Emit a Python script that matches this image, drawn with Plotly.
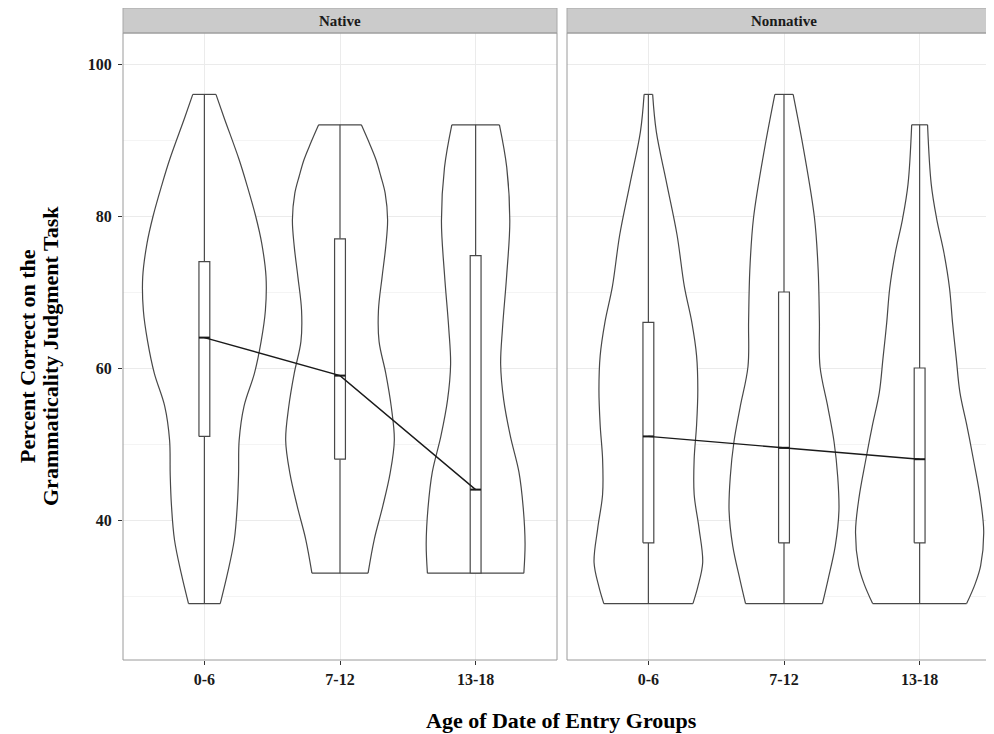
import plotly.graph_objects as go

# The page body adds an 8px margin, so the figure is laid out in reference
# pixels shifted by OFF.
OFF = 8
W, H = 994 - OFF, 734 - OFF

# ---------------- data ----------------
groups = ["0-6", "7-12", "13-18"]
panels = ["Native", "Nonnative"]

# violin density profiles (relative half-width)
nat_06_y = [29, 33, 37.4, 42, 46, 50.5, 55, 59.3, 63.5, 67.6, 72, 76.4, 80, 84, 87.4, 93, 96]
nat_06_d = [0.26, 0.38, 0.49, 0.54, 0.56, 0.57, 0.65, 0.82, 0.93, 1.00, 1.01, 0.94, 0.84, 0.70, 0.57, 0.32, 0.19]

nat_712_y = [33, 37.4, 41.8, 46.1, 50.5, 54.9, 59.3, 63.5, 67.6, 72, 76, 79.5, 83, 85.2, 87.4, 89.6, 92]
nat_712_d = [0.46, 0.56, 0.70, 0.82, 0.89, 0.84, 0.75, 0.64, 0.63, 0.69, 0.75, 0.78, 0.74, 0.67, 0.59, 0.48, 0.35]

nat_1318_y = [33, 36.9, 41.6, 46.3, 51.0, 55.8, 60.5, 65.2, 72.3, 79.3, 86.4, 92]
nat_1318_d = [0.79, 0.81, 0.78, 0.71, 0.57, 0.46, 0.41, 0.44, 0.51, 0.56, 0.51, 0.39]

non_06_y = [29, 31.2, 34.4, 38.9, 43.4, 48, 52.5, 57.1, 61.6, 66.1, 70.7, 77.5, 84.3, 91.1, 96]
non_06_d = [0.73, 0.81, 0.89, 0.83, 0.75, 0.75, 0.79, 0.81, 0.79, 0.71, 0.59, 0.47, 0.30, 0.13, 0.07]

non_712_y = [29, 32.1, 36.6, 41.2, 45.7, 50.3, 54.8, 60.2, 66.1, 72.9, 79.7, 88.8, 96]
non_712_d = [0.63, 0.72, 0.84, 0.90, 0.88, 0.82, 0.72, 0.59, 0.58, 0.56, 0.50, 0.32, 0.15]

non_1318_y = [29, 31.6, 34.0, 38.5, 43.1, 47.6, 52.2, 56.8, 61.3, 65.9, 70.5, 75.1, 79.6, 84.2, 92]
non_1318_d = [0.77, 0.91, 1.00, 1.05, 0.99, 0.89, 0.78, 0.66, 0.60, 0.54, 0.49, 0.40, 0.28, 0.19, 0.13]

# box-plot statistics
nat_min = [29, 33, 33]
nat_q1 = [51, 48, 33]
nat_med = [64, 59, 44]
nat_q3 = [74, 77, 74.8]
nat_max = [96, 92, 92]

non_min = [29, 29, 29]
non_q1 = [37, 37, 37]
non_med = [51, 49.5, 48]
non_q3 = [66, 70, 60]
non_max = [96, 96, 92]

# ---------------- styling ----------------
FONT = "Liberation Serif"
VCOL = "#484848"
LW = 1.2
HALF_MAX = 0.45   # half of ggplot's 0.9 max violin width
BOX_HALF = 0.04   # half box width (data units)

profiles = {
    "Native": [(nat_06_y, nat_06_d), (nat_712_y, nat_712_d), (nat_1318_y, nat_1318_d)],
    "Nonnative": [(non_06_y, non_06_d), (non_712_y, non_712_d), (non_1318_y, non_1318_d)],
}
stats = {
    "Native": (nat_min, nat_q1, nat_med, nat_q3, nat_max),
    "Nonnative": (non_min, non_q1, non_med, non_q3, non_max),
}
axes = {"Native": "x", "Nonnative": "x2"}

fig = go.Figure()

for p in panels:
    xa = axes[p]
    mn, q1, md, q3, mx = stats[p]
    for i, (ys, ds) in enumerate(profiles[p]):
        c = i + 1
        left = [c - d * HALF_MAX for d in ds]
        right = [c + d * HALF_MAX for d in ds]
        # white violin body
        fig.add_trace(go.Scatter(
            x=left + right[::-1], y=ys + ys[::-1], mode="lines", fill="toself",
            fillcolor="white", line=dict(width=0), hoverinfo="skip",
            xaxis=xa, yaxis="y"))
        # outline: two smooth sides + flat caps
        ox = left + [None] + right + [None] + [left[-1], right[-1]] + [None] + [left[0], right[0]]
        oy = ys + [None] + ys + [None] + [ys[-1], ys[-1]] + [None] + [ys[0], ys[0]]
        fig.add_trace(go.Scatter(
            x=ox, y=oy, mode="lines",
            line=dict(color=VCOL, width=LW, shape="spline", smoothing=1.0),
            connectgaps=False, hoverinfo="skip", xaxis=xa, yaxis="y"))
        # whiskers
        fig.add_trace(go.Scatter(
            x=[c, c, None, c, c], y=[mn[i], q1[i], None, q3[i], mx[i]], mode="lines",
            line=dict(color=VCOL, width=LW), connectgaps=False, hoverinfo="skip",
            xaxis=xa, yaxis="y"))
        # box
        fig.add_trace(go.Scatter(
            x=[c - BOX_HALF, c + BOX_HALF, c + BOX_HALF, c - BOX_HALF, c - BOX_HALF],
            y=[q1[i], q1[i], q3[i], q3[i], q1[i]], mode="lines", fill="toself",
            fillcolor="white", line=dict(color=VCOL, width=LW), hoverinfo="skip",
            xaxis=xa, yaxis="y"))
        # median bar
        fig.add_trace(go.Scatter(
            x=[c - BOX_HALF, c + BOX_HALF], y=[md[i], md[i]], mode="lines",
            line=dict(color="#1a1a1a", width=2), hoverinfo="skip", xaxis=xa, yaxis="y"))
    # line connecting medians
    fig.add_trace(go.Scatter(
        x=[1, 2, 3], y=md, mode="lines", line=dict(color="#1a1a1a", width=1.4),
        xaxis=xa, yaxis="y"))

# ---------------- layout ----------------
def px_x(v):
    return (v - OFF) / W

def px_y(v):
    return 1 - (v - OFF) / H

PL, PR1, PL2 = 123, 557, 567
PT, PB = 33, 660
unit = (PR1 - PL) / 3.2

tickfont = dict(family=FONT, size=16, color="#1a1a1a", weight="bold")

xcommon = dict(
    tickvals=[1, 2, 3], ticktext=groups, ticks="outside", ticklen=4, tickcolor="#333",
    showgrid=True, gridcolor="#ebebeb", gridwidth=1, zeroline=False, showline=False,
    tickfont=tickfont, anchor="y", fixedrange=True, ticklabelstandoff=1)

fig.update_layout(
    width=W, height=H, margin=dict(l=0, r=0, t=0, b=0),
    paper_bgcolor="white", plot_bgcolor="white", showlegend=False,
    xaxis=dict(domain=[px_x(PL), px_x(PR1)], range=[0.4, 3.6], **xcommon),
    xaxis2=dict(domain=[px_x(PL2), 1], range=[0.4, 0.4 + (994 - PL2) / unit], **xcommon),
    yaxis=dict(
        domain=[px_y(PB), px_y(PT)], range=[21.58, 104.08], tick0=0, dtick=20,
        ticks="outside", ticklen=4, tickcolor="#333", showgrid=True, gridcolor="#ebebeb",
        minor=dict(dtick=10, tick0=0, showgrid=True, gridcolor="#f4f4f4", ticks=""),
        zeroline=False, showline=False, tickfont=tickfont, anchor="x", ticklabelstandoff=3,
        fixedrange=True),
)

shapes = []
for x0, x1 in [(PL, PR1), (PL2, PL2 + 3.2 * unit)]:
    shapes.append(dict(type="rect", xref="paper", yref="paper", x0=px_x(x0), x1=px_x(x1),
                       y0=px_y(PT), y1=px_y(8), fillcolor="#cbcbcb",
                       line=dict(color="#a8a8a8", width=1), layer="above"))
    shapes.append(dict(type="rect", xref="paper", yref="paper", x0=px_x(x0), x1=px_x(x1),
                       y0=px_y(PB), y1=px_y(PT), fillcolor="rgba(0,0,0,0)",
                       line=dict(color="#9a9a9a", width=1), layer="above"))
fig.update_layout(shapes=shapes)

ann = []
for name, (x0, x1) in zip(panels, [(PL, PR1), (PL2, PL2 + 3.2 * unit)]):
    ann.append(dict(text=name, xref="paper", yref="paper", x=px_x((x0 + x1) / 2), y=px_y(20.5),
                    showarrow=False, xanchor="center", yanchor="middle",
                    font=dict(family=FONT, size=15, color="#1a1a1a", weight="bold")))
ytitle_lines = ["Percent Correct on the", "Grammaticality Judgment Task"]
for txt, xc in zip(ytitle_lines, [28, 51]):
    ann.append(dict(text=txt, xref="paper", yref="paper", x=px_x(xc), y=px_y(356), textangle=-90,
                    showarrow=False, xanchor="center", yanchor="middle",
                    font=dict(family=FONT, size=22, color="black", weight="bold")))
ann.append(dict(text="Age of Date of Entry Groups", xref="paper", yref="paper",
                x=px_x(561), y=px_y(720), showarrow=False, xanchor="center", yanchor="middle",
                font=dict(family=FONT, size=22, color="black", weight="bold")))
fig.update_layout(annotations=ann)

fig.write_html("out.html")
